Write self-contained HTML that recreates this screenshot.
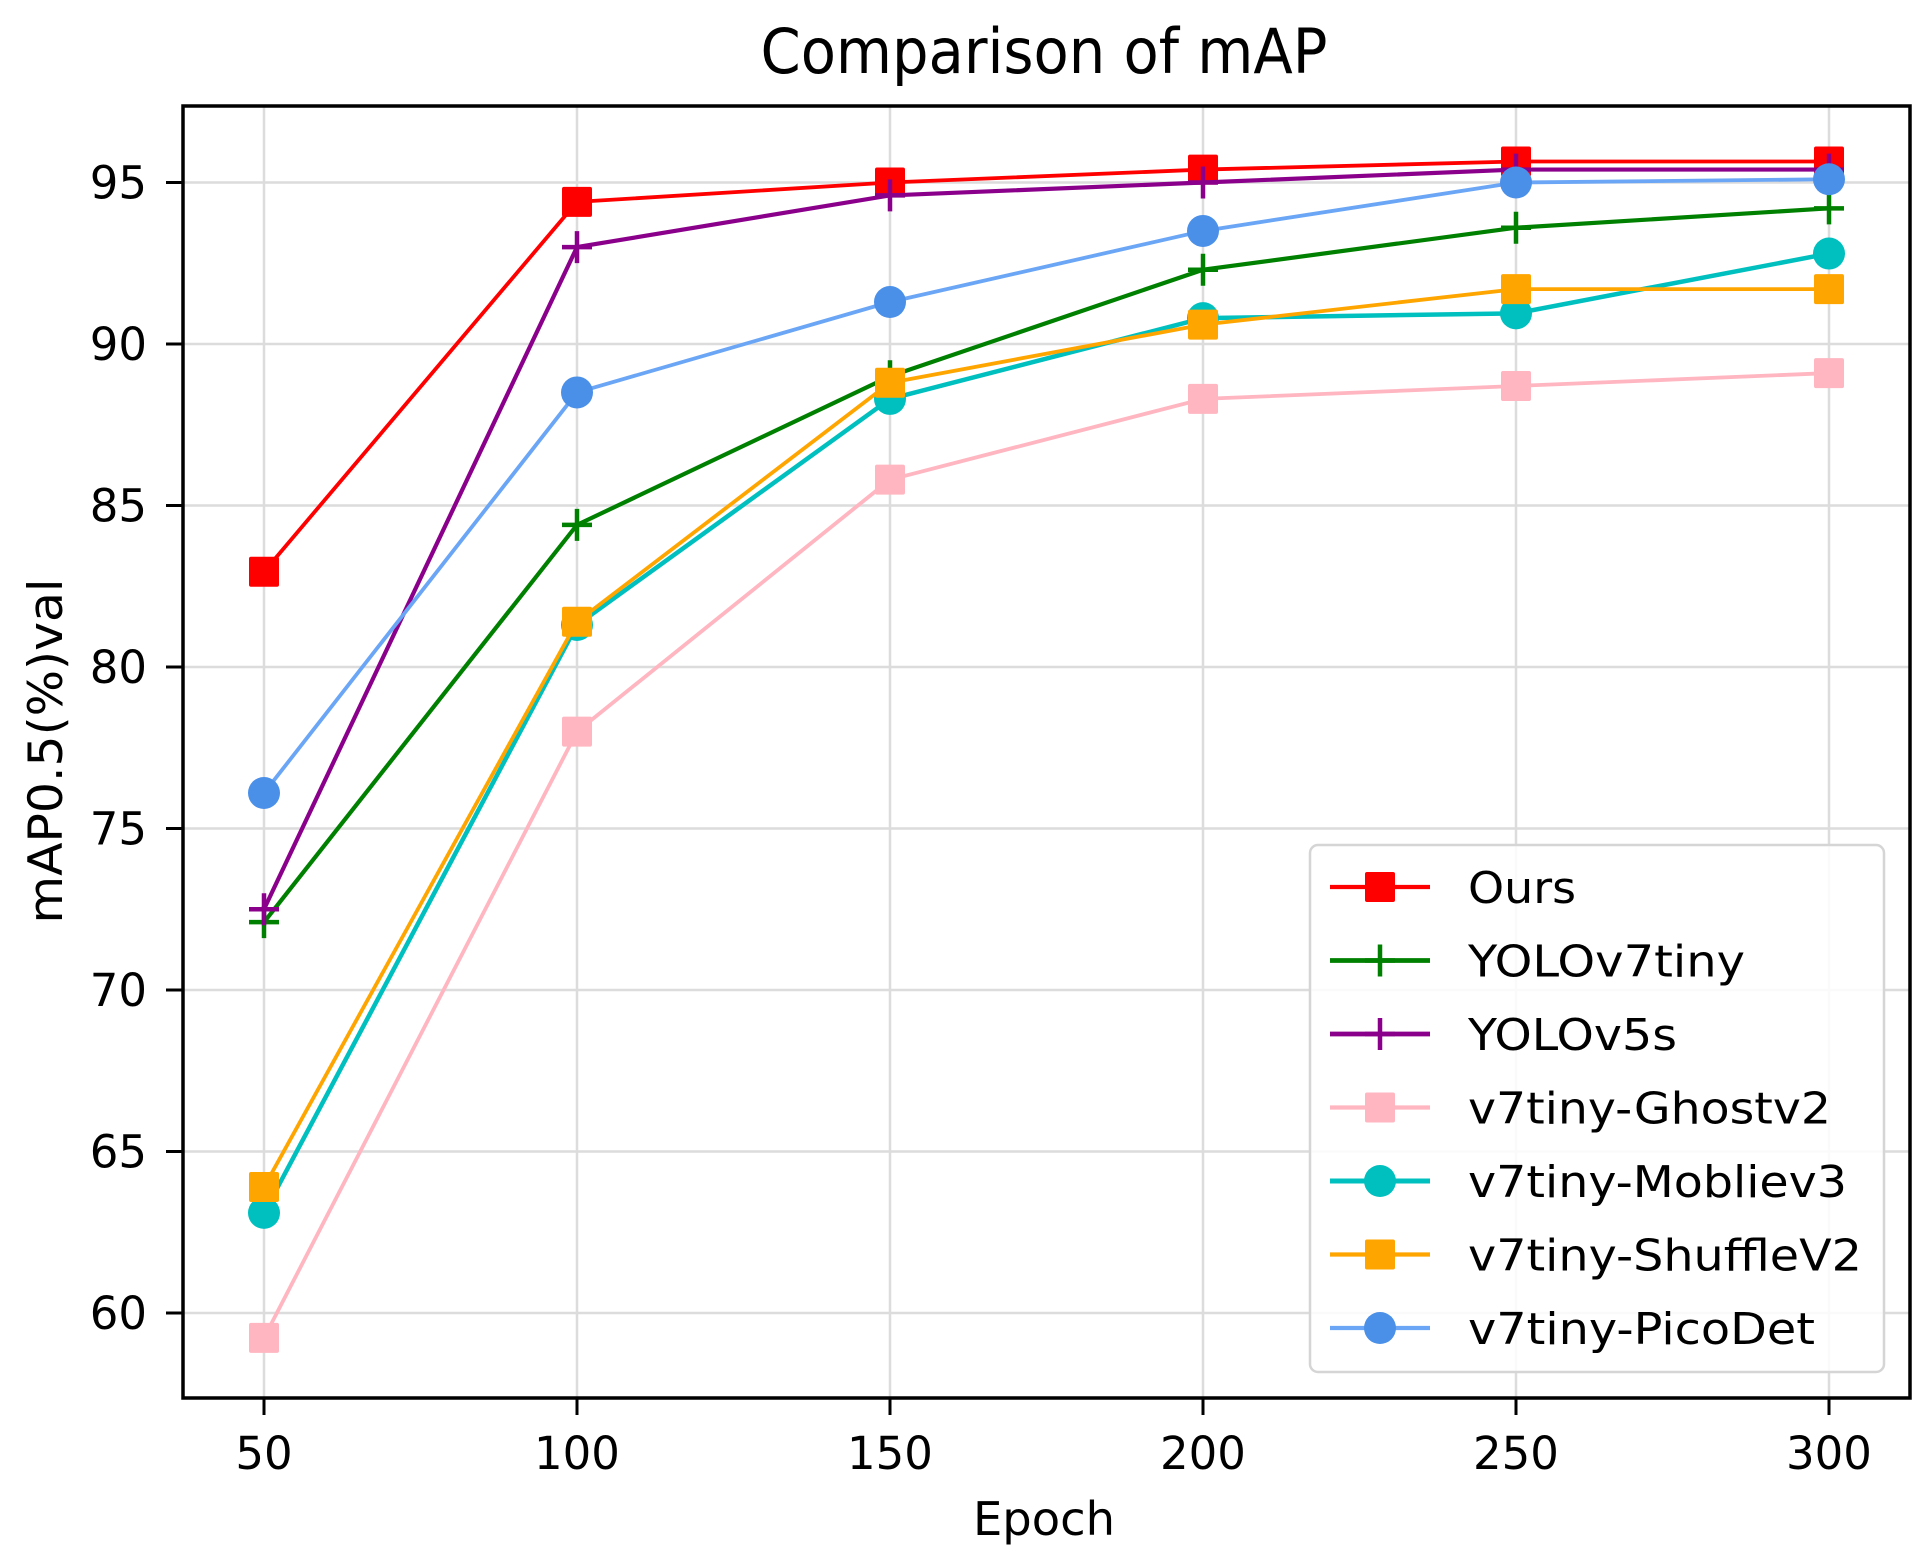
<!DOCTYPE html>
<html><head><meta charset="utf-8"><style>
html,body{margin:0;padding:0;background:#fff;}
svg{display:block;font-family:"DejaVu Sans","Liberation Sans",sans-serif;}
</style></head><body>
<svg id="chart" width="1931" height="1568" viewBox="0 0 1931 1568" xmlns="http://www.w3.org/2000/svg">
<rect x="0" y="0" width="1931" height="1568" fill="#fff"/>
<text x="1044" y="73" font-size="62" text-anchor="middle" textLength="567" lengthAdjust="spacingAndGlyphs" fill="#000">Comparison of mAP</text>
<g id="grid"></g>
<g id="series"></g>
<rect x="183" y="106" width="1727" height="1292" fill="none" stroke="#000" stroke-width="3.5"/>
<g id="ticks"></g>
<text x="1044" y="1535" font-size="46" text-anchor="middle" textLength="142" lengthAdjust="spacingAndGlyphs" fill="#000">Epoch</text>
<text x="0" y="0" font-size="47" text-anchor="middle" textLength="345" lengthAdjust="spacingAndGlyphs" fill="#000" transform="translate(62,751) rotate(-90)">mAP0.5(%)val</text>
<g id="legend"></g>
</svg>
<script>
const epochs = [50, 100, 150, 200, 250, 300];
const xTicks = [50, 100, 150, 200, 250, 300];
const yTicks = [60, 65, 70, 75, 80, 85, 90, 95];
const seriesNames = ["Ours", "YOLOv7tiny", "YOLOv5s", "v7tiny-Ghostv2", "v7tiny-Mobliev3", "v7tiny-ShuffleV2", "v7tiny-PicoDet"];
const oursVals = [82.95, 94.4, 95.0, 95.4, 95.65, 95.65];
const yolov7tinyVals = [72.1, 84.4, 89.0, 92.3, 93.6, 94.2];
const yolov5sVals = [72.5, 93.0, 94.6, 95.0, 95.4, 95.4];
const ghostVals = [59.23, 78.0, 85.8, 88.3, 88.7, 89.1];
const mobliVals = [63.1, 81.3, 88.3, 90.8, 90.95, 92.8];
const shuffleVals = [63.9, 81.4, 88.8, 90.6, 91.7, 91.7];
const picoVals = [76.1, 88.5, 91.3, 93.5, 95.0, 95.1];

const NS = "http://www.w3.org/2000/svg";
const L = 183, R = 1910, T = 106, B = 1398;
function xs(e){ return 264 + (e - 50) * (313 / 50); }
function ys(v){ return 1313 - (v - 60) * 32.3; }
function mk(tag, attrs, parent){ const el = document.createElementNS(NS, tag); for (const k in attrs) el.setAttribute(k, attrs[k]); parent.appendChild(el); return el; }

const styles = [
  {c:"#ff0000", m:"s", w:3.8},
  {c:"#008000", m:"+", w:4.2},
  {c:"#8b008b", m:"+", w:4.2},
  {c:"#ffb6c1", m:"s", w:3.8},
  {c:"#00bfbf", m:"o", w:4.5},
  {c:"#ffa500", m:"s", w:3.8},
  {c:"#6aa6f5", m:"o", w:3.8, mc:"#4a8fe8"}
];
const allVals = [oursVals, yolov7tinyVals, yolov5sVals, ghostVals, mobliVals, shuffleVals, picoVals];

const grid = document.getElementById('grid');
xTicks.forEach(t => { const l = mk('line', {x1:xs(t), x2:xs(t), y1:T, y2:B, stroke:"#dcdcdc", "stroke-width":2.5}, grid);
  
   });
yTicks.forEach(t => { const l = mk('line', {x1:L, x2:R, y1:ys(t), y2:ys(t), stroke:"#dcdcdc", "stroke-width":2.5}, grid);
  
   });

const ticks = document.getElementById('ticks');
xTicks.forEach(t => {
  const l = mk('line', {x1:xs(t), x2:xs(t), y1:B, y2:B+17, stroke:"#000", "stroke-width":3}, ticks);
  
  
  const tx = mk('text', {x:xs(t), y:1469, "font-size":45, "text-anchor":"middle", fill:"#000"}, ticks);
  tx.textContent = String(t);
  
  
});
yTicks.forEach(t => {
  const l = mk('line', {x1:L-17, x2:L, y1:ys(t), y2:ys(t), stroke:"#000", "stroke-width":3}, ticks);
  
  
  const tx = mk('text', {x:147, y:ys(t)+16, "font-size":45, "text-anchor":"end", fill:"#000"}, ticks);
  tx.textContent = String(t);
  
  
});

function marker(type, cx, cy, color, parent){
  let el;
  if (type === "s") el = mk('rect', {x:cx-15, y:cy-15, width:30, height:30, rx:2, fill:color}, parent);
  else if (type === "o") el = mk('circle', {cx:cx, cy:cy, r:16, fill:color}, parent);
  else el = mk('path', {d:`M${cx-15},${cy}H${cx+15}M${cx},${cy-16}V${cy+16}`, stroke:color, "stroke-width":4.5, fill:"none"}, parent);
  return el;
}

const sg = document.getElementById('series');
allVals.forEach((vals, i) => {
  const st = styles[i];
  const g = mk('g', {}, sg);
  
  
  const pts = vals.map((v, j) => xs(epochs[j]) + "," + ys(v)).join(" ");
  const pl = mk('polyline', {points:pts, fill:"none", stroke:st.c, "stroke-width":st.w, "stroke-linejoin":"round"}, g);
  
  
  vals.forEach((v, j) => {
    const m = marker(st.m, xs(epochs[j]), ys(v), st.mc || st.c, g);
    
    
  });
});

const lg = document.getElementById('legend');
const box = mk('rect', {x:1310, y:845, width:574, height:527, rx:8, fill:"rgba(255,255,255,0.85)", stroke:"#d5d5d5", "stroke-width":2.5}, lg);


const legendW = [108, 277, 209, 363, 379, 394, 347];
seriesNames.forEach((n, i) => {
  const st = styles[i];
  const y = 887 + i * 73.5;
  const g = mk('g', {}, lg);
  
  
  mk('line', {x1:1330, x2:1430, y1:y, y2:y, stroke:st.c, "stroke-width":st.w + 0.5}, g);
  marker(st.m, 1380, y, st.mc || st.c, g);
  const t = mk('text', {x:1468, y:y+16, "font-size":44, fill:"#000", textLength:legendW[i], lengthAdjust:"spacingAndGlyphs"}, g);
  t.textContent = n;
});
</script>
</body></html>
